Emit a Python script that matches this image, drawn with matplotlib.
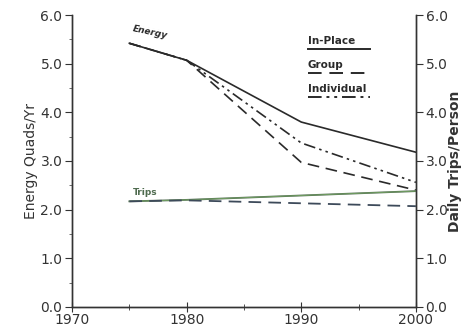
import matplotlib
matplotlib.use("Agg")
import matplotlib.pyplot as plt
from matplotlib.ticker import MultipleLocator

years = [1975, 1980, 1990, 2000]

energy_inplace = [5.42, 5.07, 3.80, 3.18]
energy_group = [5.42, 5.07, 2.97, 2.40]
energy_individual = [5.42, 5.07, 3.37, 2.56]

trips_inplace = [2.17, 2.20, 2.29, 2.38]
trips_group = [2.17, 2.19, 2.13, 2.07]
trips_individual = [2.17, 2.20, 2.29, 2.38]

yticks = [0.0, 1.0, 2.0, 3.0, 4.0, 5.0, 6.0]
xticks = [1970, 1980, 1990, 2000]

plt.rcParams['font.family'] = ['DejaVu Sans']
fig = plt.figure(figsize=(4.71, 3.35), dpi=100)
ax = fig.add_axes([0.153, 0.084, 0.730, 0.871])
ax2 = ax.twinx()

dark = '#2a2a2a'
green = '#4f6b4f'
dash_group = (0, (7, 4))
dash_ind = (0, (7, 2.5, 1.5, 2.5, 1.5, 2.5))

ax.plot(years, energy_inplace, color=dark, lw=1.2, ls='-')
ax.plot(years, energy_group, color=dark, lw=1.2, ls=dash_group)
ax.plot(years, energy_individual, color=dark, lw=1.2, ls=dash_ind)

ax2.plot(years, trips_inplace, color=green, lw=1.3, ls='-')
ax2.plot(years, trips_individual, color='#7fb26a', lw=0.6, ls='-', alpha=0.8)
ax2.plot(years, trips_group, color='#3d4a5a', lw=1.3, ls=dash_group)

for a in (ax, ax2):
    a.set_xlim(1970, 2000)
    a.set_ylim(0, 6.0)
    a.set_yticks(yticks)
    a.set_yticklabels([f"{v:.1f}" for v in yticks])
    a.spines['top'].set_visible(False)
    for s in a.spines.values():
        s.set_color('#333333')
        s.set_linewidth(1.0)

ax.set_xticks(xticks)
ax.set_xticklabels([str(x) for x in xticks])
ax.xaxis.set_minor_locator(MultipleLocator(5))
ax.yaxis.set_minor_locator(MultipleLocator(0.5))
ax.tick_params(axis='x', which='major', direction='inout', length=7, labelsize=10, colors='#333333', pad=1)
ax.tick_params(axis='x', which='minor', direction='inout', length=4, colors='#333333')
ax.tick_params(axis='y', which='major', direction='out', length=5, labelsize=10, colors='#333333', pad=2)
ax.tick_params(axis='y', which='minor', direction='out', length=2, colors='#555555')
ax2.tick_params(axis='y', which='major', direction='out', length=5, labelsize=10, colors='#333333', pad=2)

ax.set_ylabel('Energy Quads/Yr', fontsize=10, color='#333333', labelpad=2)
ax2.set_ylabel('Daily Trips/Person', fontsize=10, color='#333333', fontweight='bold', labelpad=0)

# curve labels
ax.text(1975.2, 5.47, 'Energy', fontsize=6.5, fontweight='bold', rotation=-12,
        color=dark, ha='left', va='bottom', style='italic')
ax2.text(1975.3, 2.25, 'Trips', fontsize=6.5, fontweight='bold', color=green,
         ha='left', va='bottom')

# legend
leg_items = [('In-Place', '-', 0.866), ('Group', dash_group, 0.855), ('Individual', dash_ind, 0.866)]
tr = ax.transAxes
for i, (lab, ls, xe) in enumerate(leg_items):
    y = 0.895 - i * 0.083
    ax.text(0.686, y, lab, transform=tr, fontsize=7.5, fontweight='bold',
            color=dark, ha='left', va='bottom')
    ax.plot([0.686, xe], [y - 0.01, y - 0.01], transform=tr, color=dark,
            lw=1.4, ls=ls, clip_on=False)

fig.savefig('out.png', dpi=100)
